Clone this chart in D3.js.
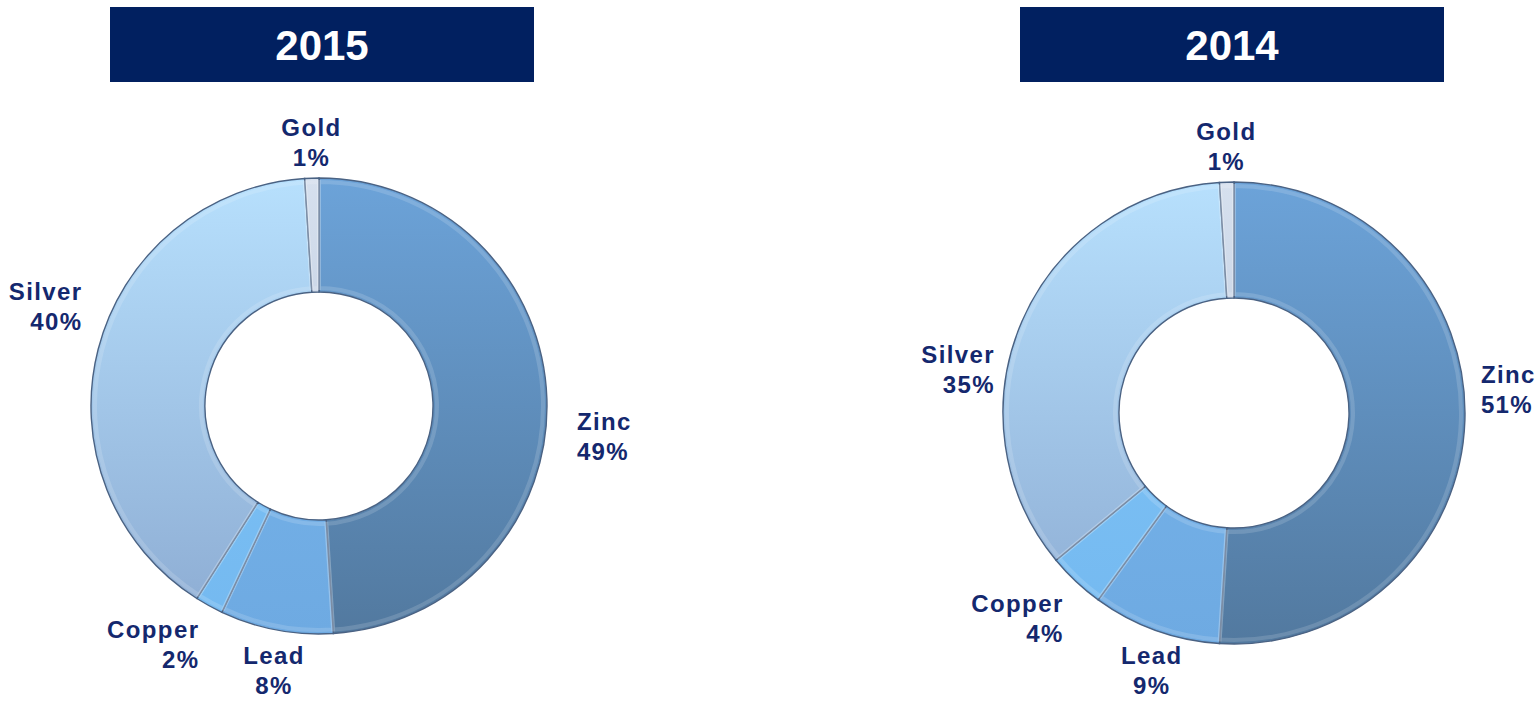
<!DOCTYPE html>
<html>
<head>
<meta charset="utf-8">
<script src="https://cdn.jsdelivr.net/npm/d3@7"></script>
<style>
    body { margin: 0; background: #fff; }
    text { font-family: Arial, "Liberation Sans", sans-serif; font-weight: bold; }
</style>
</head>
<body>
<div id="chart"></div>
<script>
///////////////////////////
// DATA
///////////////////////////

const metals = ['Zinc', 'Lead', 'Copper', 'Silver', 'Gold'];
const years = ['2015', '2014'];
const share2015 = [49, 8, 2, 40, 1];
const share2014 = [51, 9, 4, 35, 1];

// top / bottom shades of each slice
const colorTop = ['#6ca3d9', '#7ab8ee', '#82c6f8', '#b7e0fd', '#d6e0ee'];
const colorBottom = ['#52799f', '#6eaae2', '#74b9f0', '#8cabd2', '#b2c2d8'];

const width = 1539;
const height = 704;

const svg = d3.select('#chart')
    .append('svg')
    .attr('width', width)
    .attr('height', height);

const defs = svg.append('defs');

// layout of the two donuts; shift = hand moves of some labels, like in the original deck
const charts = [
    {
        year: years[0], values: share2015, cx: 319, cy: 406, r: 228, r0: 114,
        box: [110, 7, 424, 75],
        shift: { Silver: [0, -40], Zinc: [14, 38] }
    },
    {
        year: years[1], values: share2014, cx: 1234, cy: 413, r: 231, r0: 115,
        box: [1020, 7, 424, 75],
        shift: { Silver: [-12, 76], Zinc: [0, -32] }
    }
];

const pie = d3.pie().sort(null).value(d => d.value);

charts.forEach((c, ci) => {
    // title box
    svg.append('rect')
        .attr('x', c.box[0])
        .attr('y', c.box[1])
        .attr('width', c.box[2])
        .attr('height', c.box[3])
        .style('fill', '#012060');

    svg.append('text')
        .attr('x', c.box[0] + c.box[2] / 2)
        .attr('y', c.box[1] + c.box[3] / 2 + 15)
        .attr('text-anchor', 'middle')
        .style('font-size', '42px')
        .style('fill', '#fff')
        .text(c.year);

    // gradients, vertical over the ring (local coords of the translated group)
    metals.forEach((m, i) => {
        let g = defs.append('linearGradient')
            .attr('id', `g${ci}_${i}`)
            .attr('gradientUnits', 'userSpaceOnUse')
            .attr('x1', 0).attr('x2', 0)
            .attr('y1', -c.r).attr('y2', c.r);
        g.append('stop').attr('offset', '0%').attr('stop-color', colorTop[i]);
        g.append('stop').attr('offset', '100%').attr('stop-color', colorBottom[i]);
    });

    let data = metals.map((m, i) => ({ name: m, value: c.values[i], idx: i }));
    let arcs = pie(data);

    let arc = d3.arc().innerRadius(c.r0).outerRadius(c.r);
    let bevel = d3.arc().innerRadius(c.r0 + 4).outerRadius(c.r - 4);

    let g = svg.append('g').attr('transform', `translate(${c.cx},${c.cy})`);

    g.selectAll('.slice')
        .data(arcs)
        .enter().append('path')
        .attr('class', 'slice')
        .attr('d', arc)
        .style('fill', d => `url(#g${ci}_${d.data.idx})`)
        .style('stroke', '#4a6283')
        .style('stroke-width', 1.4);

    // soft highlight to suggest the bevel
    g.selectAll('.bevel')
        .data(arcs)
        .enter().append('path')
        .attr('class', 'bevel')
        .attr('d', bevel)
        .style('fill', 'none')
        .style('stroke', '#ffffff')
        .style('stroke-opacity', 0.15)
        .style('stroke-width', 4);

    // labels
    let labelR = c.r + 12;
    let labels = svg.append('g').attr('transform', `translate(${c.cx},${c.cy})`);
    arcs.forEach(d => {
        let a = (d.startAngle + d.endAngle) / 2;
        let s = Math.sin(a);
        let co = -Math.cos(a);
        let x = s * labelR;
        let y = co * labelR;
        let anchor = s > 0.35 ? 'start' : (s < -0.35 ? 'end' : 'middle');
        let top;
        if (co < -0.35) top = y - 50;
        else if (co > 0.35) top = y + 2;
        else top = y - 26;
        if (anchor === 'start') x += 4;
        if (anchor === 'end') x -= 4;
        let sh = c.shift[d.data.name] || [0, 0];
        x += sh[0];
        top += sh[1];
        let t = labels.append('text')
            .attr('text-anchor', anchor)
            .style('font-size', '24px')
            .style('letter-spacing', '1.4px')
            .style('fill', '#14286e');
        t.append('tspan').attr('x', x).attr('y', top + 20).text(d.data.name);
        t.append('tspan').attr('x', x).attr('y', top + 50).text(d.data.value + '%');
    });
});
</script>
</body>
</html>
